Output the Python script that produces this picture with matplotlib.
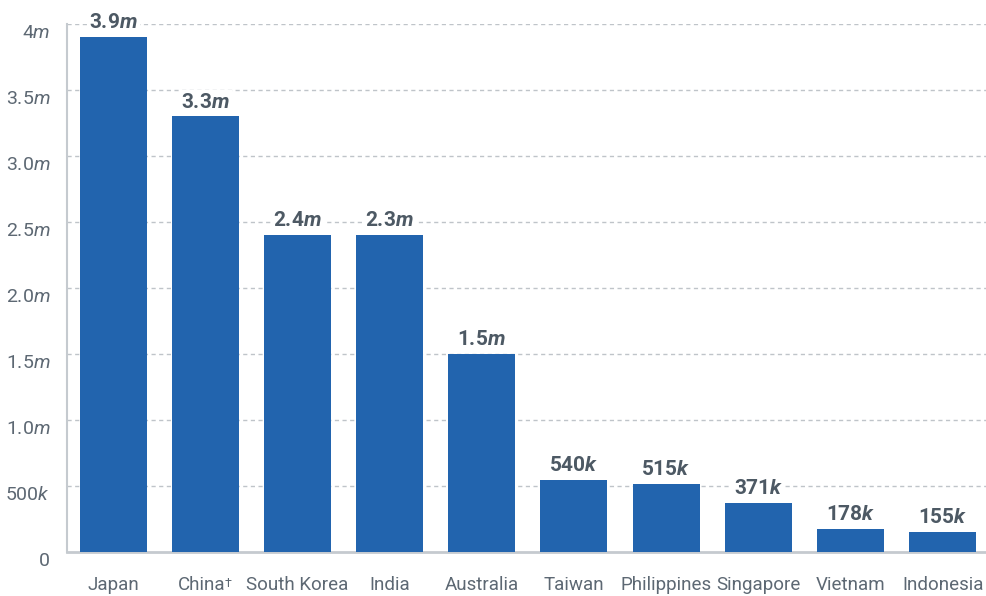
import matplotlib
matplotlib.use("Agg")
import matplotlib.pyplot as plt
import matplotlib.transforms as mtransforms
import numpy as np

countries = ["Japan", "China", "South Korea", "India", "Australia",
             "Taiwan", "Philippines", "Singapore", "Vietnam", "Indonesia"]
footnote_marks = ["", "†", "", "", "", "", "", "", "", ""]
values_m = [3.9, 3.3, 2.4, 2.4, 1.5, 0.545, 0.515, 0.371, 0.175, 0.152]
value_labels = ["3.9$\\mathbfit{m}$", "3.3$\\mathbfit{m}$", "2.4$\\mathbfit{m}$", "2.3$\\mathbfit{m}$",
                "1.5$\\mathbfit{m}$", "540$\\mathbfit{k}$", "515$\\mathbfit{k}$", "371$\\mathbfit{k}$",
                "178$\\mathbfit{k}$", "155$\\mathbfit{k}$"]
yticks = [0, 0.5, 1.0, 1.5, 2.0, 2.5, 3.0, 3.5, 4.0]
ytick_labels = ["0", "500$\\mathit{k}$", "1.0$\\mathit{m}$", "1.5$\\mathit{m}$", "2.0$\\mathit{m}$",
                "2.5$\\mathit{m}$", "3.0$\\mathit{m}$", "3.5$\\mathit{m}$", "4$\\mathit{m}$"]

FONT = "Roboto"
plt.rcParams['font.family'] = [FONT, 'DejaVu Sans']
plt.rcParams['mathtext.fontset'] = 'custom'
plt.rcParams['mathtext.rm'] = FONT
plt.rcParams['mathtext.it'] = FONT + ':italic'
plt.rcParams['mathtext.bf'] = FONT + ':bold'
plt.rcParams['mathtext.bfit'] = FONT + ':italic:bold'

BAR = '#2264ae'
TXT = '#5d6873'
LBL = '#4d5964'
AX = '#c5cacf'

W, H = 986, 596
fig = plt.figure(figsize=(W / 100, H / 100), dpi=100)
ax = fig.add_axes([67/W, 44/H, 919/W, 528/H])

x = np.arange(len(countries))
ax.bar(x, values_m, width=0.727, color=BAR, zorder=3)

ax.set_xlim(-0.5, 9.47)
ax.set_ylim(0, 4.0)

for y in yticks[1:]:
    ax.axhline(y, color='#bfc4c9', lw=1, ls=(0, (3, 2.5)), zorder=1)

for s in ['top', 'right']:
    ax.spines[s].set_visible(False)
ax.spines['bottom'].set_color(AX)
ax.spines['bottom'].set_linewidth(2)
ax.spines['left'].set_color(AX)
ax.spines['left'].set_linewidth(1.5)

ax.set_xticks(x)
ax.set_xticklabels(countries)
ax.set_xticks(np.arange(0.5, 9, 1), minor=True)
ax.tick_params(axis='x', which='major', length=0, pad=17, labelsize=13.5, labelcolor=TXT)
ax.tick_params(axis='x', which='minor', length=5, width=2.5, color='white', direction='inout')

ax.set_yticks(yticks)
ax.set_yticklabels(ytick_labels)
ax.tick_params(axis='y', length=0, pad=12, labelsize=14, labelcolor=TXT)
for lbl in ax.get_yticklabels():
    lbl.set_verticalalignment('top')

for xi, v, t in zip(x, values_m, value_labels):
    ax.annotate(t, (xi, v), xytext=(0, 3.5), textcoords='offset points',
                ha='center', va='bottom', fontsize=15, fontweight='bold', color=LBL,
                bbox=dict(fc='white', ec='none', pad=1.5), zorder=4)

# footnote marks as small superscripts; label + mark centred together
fig.canvas.draw()
renderer = fig.canvas.get_renderer()
for lbl, mark in zip(ax.get_xticklabels(), footnote_marks):
    if mark:
        shift = 4
        bb = lbl.get_window_extent(renderer)
        lbl.set_transform(lbl.get_transform() +
                          mtransforms.ScaledTranslation(-shift / 100, 0, fig.dpi_scale_trans))
        fig.text((bb.x1 - shift - 0.5) / W, (bb.y1 - 1) / H, mark, fontsize=9, color=TXT,
                 ha='left', va='top')

fig.savefig("out.png", dpi=100)
